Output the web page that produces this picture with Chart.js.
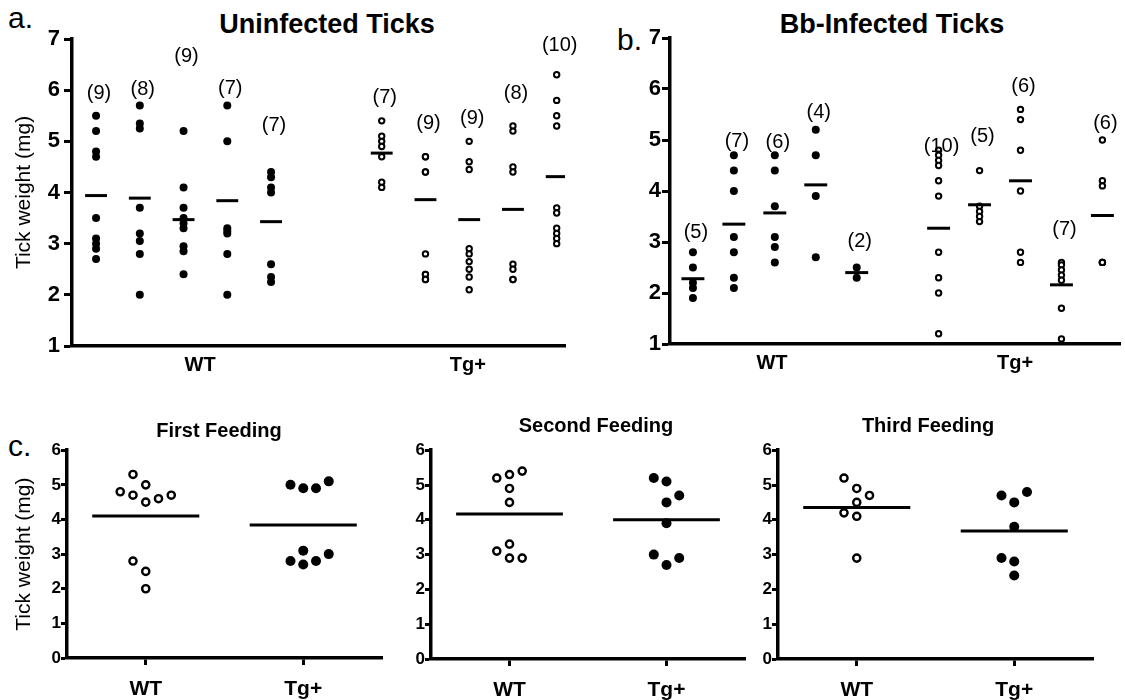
<!DOCTYPE html>
<html>
<head>
<meta charset="utf-8">
<title>Tick weight</title>
<script src="https://cdn.jsdelivr.net/npm/chart.js@4.4.1/dist/chart.umd.min.js"></script>
<style>
body{margin:0;background:#fff}
#fig{position:relative;width:1125px;height:700px;overflow:hidden;font-family:"Liberation Sans",Arial,sans-serif;color:#000;background:#fff}
#fig canvas{position:absolute}
.t{position:absolute;line-height:1;white-space:nowrap}
.c{transform:translateX(-50%);font-weight:bold}
</style>
</head>
<body>
<div id="fig">
<div class="t" style="left:8px;top:3px;font-size:30px">a.</div>
<div class="t" style="left:617px;top:25px;font-size:30px">b.</div>
<div class="t" style="left:8px;top:431px;font-size:30px">c.</div>
<div class="t c" style="left:327px;top:11px;font-size:27px">Uninfected Ticks</div>
<div class="t c" style="left:892px;top:11px;font-size:27px">Bb-Infected Ticks</div>
<canvas id="ca" width="580" height="380" style="left:0;top:0"></canvas>
<canvas id="cb" width="545" height="380" style="left:580px;top:0"></canvas>
<canvas id="c1" width="390" height="260" style="left:0;top:440px"></canvas>
<canvas id="c2" width="360" height="260" style="left:395px;top:440px"></canvas>
<canvas id="c3" width="370" height="260" style="left:755px;top:440px"></canvas>
</div>
<script>
// a. uninfected ticks - one array per mouse
const groups = ["WT","Tg+"]
const uninfWT = [
[5.5,5.2,4.8,4.7,3.5,3.1,3.0,2.9,2.7],
[5.7,5.35,5.25,3.7,3.2,3.05,2.8,2.0],
[5.2,4.1,3.7,3.5,3.4,3.3,2.95,2.85,2.4],
[5.7,5.0,3.3,3.25,3.2,2.8,2.0],
[4.4,4.3,4.1,4.0,2.6,2.35,2.25]
]
const uninfTg = [
[5.4,5.1,5.0,4.9,4.7,4.2,4.1],
[4.7,4.7,4.4,4.4,2.8,2.4,2.4,2.3,2.3],
[5.0,4.6,4.45,2.9,2.8,2.65,2.5,2.35,2.1],
[5.3,5.2,4.5,4.4,2.6,2.5,2.3,2.3],
[6.3,5.8,5.5,5.3,3.7,3.6,3.3,3.2,3.1,3.0]
]
const uninfWTMean = [3.94,3.89,3.47,3.84,3.43]
const uninfTgMean = [4.77,3.86,3.47,3.67,4.31]
const uninfCountAt = [5.94,6.02,6.65,6.03,5.31,5.86,5.34,5.45,5.94,6.88]
const uninfGroupAt = [3.38,9.5]

// b. Bb-infected ticks
const bbWT = [
[2.8,2.5,2.2,2.1,1.9],
[4.7,4.4,4.0,3.1,2.8,2.3,2.1],
[4.7,4.4,3.7,3.1,2.9,2.6],
[5.2,4.7,3.9,2.7],
[2.5,2.3]
]
const bbTg = [
[4.8,4.7,4.6,4.5,4.2,3.9,2.8,2.3,2.0,1.2],
[4.4,3.7,3.6,3.5,3.4],
[5.6,5.4,4.8,4.0,2.8,2.6],
[2.6,2.55,2.45,2.35,2.25,1.7,1.1],
[5.0,4.2,4.1,2.6,2.6,2.6]
]
const bbWTMean = [2.28,3.35,3.57,4.12,2.40]
const bbTgMean = [3.27,3.73,4.20,2.16,3.52]
const bbCountAt = [3.18,4.97,4.95,5.53,3.01,4.87,5.07,6.05,3.24,5.33]
const bbGroupAt = [2.93,8.87]

// c. repeated feedings (slot = place in the dot row)
const feedings = ["First Feeding","Second Feeding","Third Feeding"]
const feedWT = [
[5.3,5.0,4.8,4.7,4.5,4.6,4.7,2.8,2.5,2.0],
[5.2,5.3,5.4,4.9,4.5,3.1,3.3,2.9,2.9],
[5.2,4.9,4.7,4.5,4.2,4.1,2.9]
]
const feedWTSlot = [
[-1,0,-2,-1,0,1,2,-1,0,0],
[-1,0,1,0,0,-1,0,0,1],
[-1,0,1,0,-1,0,0]
]
const feedTg = [
[5.0,4.9,4.9,5.1,2.8,3.1,2.7,2.8,3.0],
[5.2,5.1,4.7,4.5,3.9,3.0,2.9,2.7],
[4.7,4.5,4.8,3.8,2.9,2.8,2.4]
]
const feedTgSlot = [
[-1,0,1,2,-1,0,0,1,2],
[-1,0,1,0,0,-1,1,0],
[-1,0,1,0,-1,0,0]
]
const feedWTMean = [4.10,4.17,4.35]
const feedTgMean = [3.84,4.00,3.68]

Chart.defaults.font.family = '"Liberation Sans", Arial, sans-serif'
Chart.defaults.color = "#000"

const countLabels = {
id:"countLabels",
afterDatasetsDraw(chart,args,opts){
if(!opts.xs) return
let ctx=chart.ctx, x=chart.scales.x, y=chart.scales.y
ctx.save()
ctx.font="20px "+Chart.defaults.font.family
ctx.textAlign="center"
ctx.textBaseline="middle"
ctx.fillStyle="#000"
opts.xs.forEach((c,i)=>{
ctx.fillText("("+opts.ns[i]+")", x.getPixelForValue(c)+3, y.getPixelForValue(opts.at[i]))
})
ctx.restore()
}
}

function dots(points,filled,r,bw){
return {data:points,showLine:false,pointRadius:r,pointHoverRadius:r,
pointBackgroundColor:filled?"#000":"#fff",pointBorderColor:"#000",pointBorderWidth:bw,order:2}
}

function meanLine(x,m,half){
return {data:[{x:x-half,y:m},{x:x+half,y:m}],showLine:true,borderColor:"#000",borderWidth:3,
borderCapStyle:"butt",pointRadius:0,order:1}
}

function axisY(o){
return {
min:o.min,max:o.max,
ticks:{stepSize:1,font:{size:o.size,weight:"bold"},padding:o.pad},
grid:{drawOnChartArea:false,drawTicks:true,tickLength:o.len,tickWidth:3,tickColor:"#000"},
border:{display:true,color:"#000",width:3.5},
title:o.title?{display:true,text:o.title,font:{size:21},padding:{top:12,bottom:0}}:{display:false},
afterFit(s){s.width=o.width}
}
}

function axisX(o){
return {
type:"linear",min:o.min,max:o.max,
afterBuildTicks(s){s.ticks=o.at.map(v=>({value:v}))},
ticks:{callback:(v,i)=>groups[i],font:{size:o.size,weight:"bold"},padding:o.pad,maxRotation:0,autoSkip:false},
grid:{drawOnChartArea:false,drawTicks:o.len>0,tickLength:o.len,tickWidth:3,tickColor:"#000"},
border:{display:true,color:"#000",width:3.5},
afterFit(s){s.height=o.height}
}
}

function draw(id,datasets,pad,x,y,counts){
new Chart(document.getElementById(id),{
type:"scatter",
data:{datasets},
options:{
responsive:false,animation:false,events:[],
layout:{padding:pad},
plugins:{legend:{display:false},tooltip:{enabled:false},countLabels:counts||{}},
scales:{x,y}
},
plugins:[countLabels]
})
}

// panels a and b: one column per mouse, WT filled, Tg+ open
function columnPanel(id,cols,means,gap,half,countAt,groupAt,pad,xr,yo,xh,xpad){
let datasets=[], xs=[], ns=[]
cols.forEach((group,g)=>{
let pts=[]
group.forEach((vals,i)=>{
let x=1+i+g*(5+gap)
xs.push(x); ns.push(vals.length)
vals.forEach(v=>pts.push({x,y:v}))
datasets.push(meanLine(x,means[g][i],half))
})
datasets.push(g==0?dots(pts,true,4,0):dots(pts,false,2.7,2))
})
draw(id,datasets,pad,
axisX({min:xr[0],max:xr[1],at:groupAt,size:20,pad:xpad,len:0,height:xh}),
axisY(yo),
{xs,ns,at:countAt})
}

columnPanel("ca",[uninfWT,uninfTg],[uninfWTMean,uninfTgMean],1.53,0.25,uninfCountAt,uninfGroupAt,
{left:0,top:39,right:15,bottom:0},[0.45,11.72],
{min:1,max:7,size:22,pad:4,len:8,width:72,title:"Tick weight (mg)"},34,7)

columnPanel("cb",[bbWT,bbTg],[bbWTMean,bbTgMean],1,0.28,bbCountAt,bbGroupAt,
{left:0,top:38,right:5,bottom:0},[0.44,11.43],
{min:1,max:7,size:22,pad:1,len:8,width:90},36,7)

// panel c: WT open, Tg+ filled, dots spread in rows
const feedBoxes = [
{id:"c1",pad:{left:0,top:9,right:8,bottom:0},yw:67,xh:42,title:"Tick weight (mg)",tx:219,ty:420},
{id:"c2",pad:{left:0,top:10,right:10,bottom:0},yw:36,xh:41,title:"",tx:596,ty:415},
{id:"c3",pad:{left:0,top:10,right:32,bottom:0},yw:23,xh:41,title:"",tx:928,ty:415}
]
const slotW = 0.081

feedings.forEach((name,k)=>{
let b=feedBoxes[k]
let wt=feedWT[k].map((v,i)=>({x:1+feedWTSlot[k][i]*slotW,y:v}))
let tg=feedTg[k].map((v,i)=>({x:2+feedTgSlot[k][i]*slotW,y:v}))
let datasets=[
meanLine(1,feedWTMean[k],0.34),
meanLine(2,feedTgMean[k],0.34),
dots(wt,false,3.6,2.4),
dots(tg,true,5,0)
]
draw(b.id,datasets,b.pad,
axisX({min:0.5,max:2.5,at:[1,2],size:21,pad:12,len:7,height:b.xh}),
axisY({min:0,max:6,size:17,pad:0,len:6,width:b.yw,title:b.title}))
let t=document.createElement("div")
t.className="t c"
t.style.cssText="left:"+b.tx+"px;top:"+b.ty+"px;font-size:20px"
t.textContent=name
document.getElementById("fig").appendChild(t)
})
</script>
</body>
</html>
